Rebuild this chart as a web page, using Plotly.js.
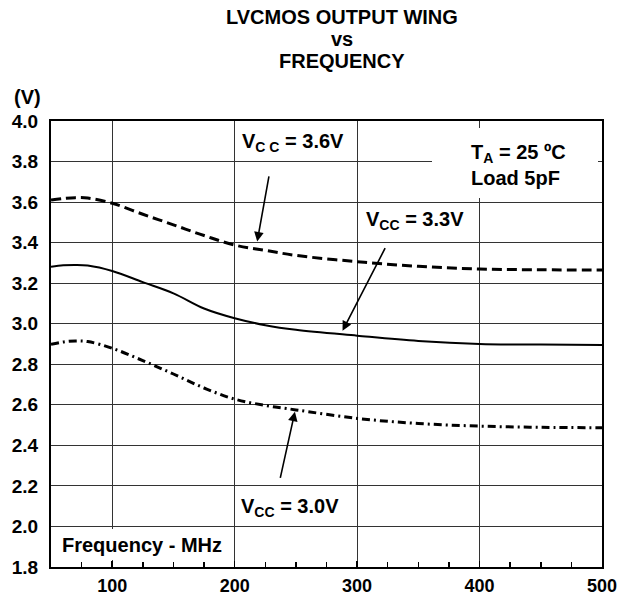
<!DOCTYPE html>
<html>
<head>
<meta charset="utf-8">
<script src="https://cdn.plot.ly/plotly-3.0.1.min.js"></script>
<style>html,body{margin:0;padding:0;background:#fff;}#chart{width:624px;height:598px;}</style>
</head>
<body>
<div id="chart"></div>
<script>
// Frequency (MHz)
const freq = [50, 60, 70, 80, 100, 125, 150, 175, 200, 225, 250, 300, 350, 400, 450, 500];
// Output swing (V) per supply voltage
const vcc36 = [3.610, 3.618, 3.622, 3.620, 3.594, 3.540, 3.488, 3.435, 3.388, 3.362, 3.337, 3.306, 3.283, 3.270, 3.266, 3.265];
const vcc33 = [3.281, 3.288, 3.290, 3.287, 3.260, 3.205, 3.150, 3.075, 3.027, 2.993, 2.970, 2.941, 2.915, 2.900, 2.897, 2.895];
const vcc30 = [2.898, 2.910, 2.915, 2.912, 2.879, 2.818, 2.752, 2.683, 2.628, 2.597, 2.575, 2.533, 2.508, 2.495, 2.489, 2.487];
const xTicks = [100, 200, 300, 400, 500];

const FONT = 'Arial, "Liberation Sans", sans-serif';

const lineTrace = (y, dash) => ({
  x: freq, y: y, type: 'scatter', mode: 'lines',
  line: {color: '#000', width: dash === 'solid' ? 2 : 3, dash: dash, shape: 'spline', smoothing: 1},
  hoverinfo: 'skip', showlegend: false
});

const data = [
  lineTrace(vcc36, '10px,5px'),
  lineTrace(vcc33, 'solid'),
  lineTrace(vcc30, '8px,4px,2px,4px')
];

const lbl = (x, y, text, extra) => Object.assign({
  x: x, y: y, xref: 'x', yref: 'y', text: text, showarrow: false,
  xanchor: 'left', yanchor: 'middle', align: 'left',
  font: {family: FONT, size: 20, color: '#000', weight: 'bold'}
}, extra || {});

const box = (x, y, w, h) => ({
  x: x, y: y, xref: 'x', yref: 'y', text: ' ', showarrow: false,
  width: w, height: h, bgcolor: '#fff', borderpad: 0, borderwidth: 0,
  xanchor: 'center', yanchor: 'middle'
});

const arrow = (hx, hy, tx, ty) => ({
  x: hx, y: hy, ax: tx, ay: ty, xref: 'x', yref: 'y', axref: 'x', ayref: 'y',
  text: '', showarrow: true, arrowhead: 2, arrowsize: 1.2, arrowwidth: 1.6, arrowcolor: '#000'
});

const titleFont = {family: FONT, size: 20, color: '#000', weight: 'bold'};

const annotations = [
  box(428.8, 3.793, 166, 70),
  box(125.1, 1.911, 182, 31),
  lbl(391, 3.785, 'T<sub>A</sub> = 25 ºC<br>Load 5pF'),
  lbl(57.5, 1.911, 'Frequency - MHz'),
  lbl(204.5, 3.893, 'V<sub>C C</sub> = 3.6V'),
  lbl(306.0, 3.508, 'V<sub>CC</sub> = 3.3V'),
  lbl(203.2, 2.093, 'V<sub>CC</sub> = 3.0V'),
  arrow(218.4, 3.405, 228.2, 3.734),
  arrow(288.1, 2.965, 323.5, 3.380),
  arrow(249.2, 2.566, 237.0, 2.232),
  {xref: 'paper', yref: 'paper', x: 0, y: 1, xanchor: 'right', yanchor: 'middle',
   xshift: -8, yshift: 24, text: '(V)', showarrow: false,
   font: {family: FONT, size: 20, color: '#000', weight: 'bold'}},
  {xref: 'paper', yref: 'paper', x: 0.5, y: 1, xanchor: 'center', yanchor: 'middle',
   xshift: 15, yshift: 104, text: 'LVCMOS OUTPUT WING', showarrow: false, font: titleFont},
  {xref: 'paper', yref: 'paper', x: 0.5, y: 1, xanchor: 'center', yanchor: 'middle',
   xshift: 15, yshift: 82, text: 'vs', showarrow: false, font: titleFont},
  {xref: 'paper', yref: 'paper', x: 0.5, y: 1, xanchor: 'center', yanchor: 'middle',
   xshift: 15, yshift: 60, text: 'FREQUENCY', showarrow: false, font: titleFont}
];

const yTickFont = {family: FONT, size: 19, color: '#000', weight: 'bold'};
const xTickFont = {family: FONT, size: 18, color: '#000', weight: 'bold'};

const layout = {
  width: 624, height: 598,
  margin: {l: 51, r: 22, t: 121, b: 31, pad: 0},
  paper_bgcolor: '#fff', plot_bgcolor: '#fff',
  showlegend: false,
  font: {family: FONT, size: 18, color: '#000'},
  xaxis: {
    range: [50, 500], tickvals: xTicks, ticktext: xTicks.map(String),
    showgrid: true, gridcolor: '#333', gridwidth: 1, zeroline: false,
    showline: true, linecolor: '#000', linewidth: 2, mirror: true,
    ticks: 'inside', ticklen: 6, tickwidth: 1.5, tickcolor: '#000',
    minor: {dtick: 25, tick0: 0, ticks: 'inside', ticklen: 5, tickwidth: 1.5, tickcolor: '#000', showgrid: false},
    tickfont: xTickFont, ticklabelstandoff: 1, fixedrange: true
  },
  yaxis: {
    range: [1.8, 4.0], dtick: 0.2, tick0: 1.8, tickformat: '.1f',
    showgrid: true, gridcolor: '#333', gridwidth: 1, zeroline: false,
    showline: true, linecolor: '#000', linewidth: 2, mirror: true,
    ticks: '', tickfont: yTickFont, ticklabelstandoff: 7, fixedrange: true
  },
  annotations: annotations
};

Plotly.newPlot('chart', data, layout, {staticPlot: true, displayModeBar: false});
</script>
</body>
</html>
